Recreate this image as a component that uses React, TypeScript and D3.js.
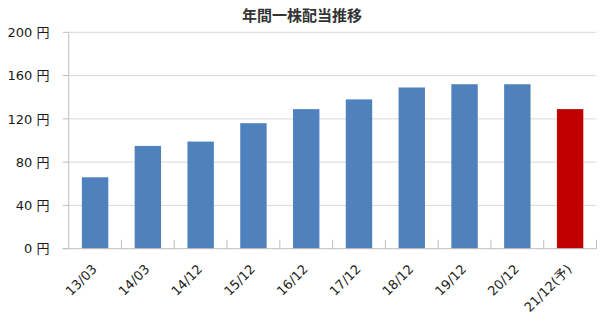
import React from "react";
import * as d3 from "d3";

const categories = ["13/03", "14/03", "14/12", "15/12", "16/12", "17/12", "18/12", "19/12", "20/12", "21/12(予)"];
const dividends = [66, 95, 99, 116, 129, 138, 149, 152, 152, 129];
const forecastFlags = [false, false, false, false, false, false, false, false, false, true];
const yTicks = [0, 40, 80, 120, 160, 200];
const title = "年間一株配当推移";

const W = 607;
const H = 321;
const left = 68.7;
const right = 596.5;
const top = 32.3;
const bottom = 248.7;
const FONT = "'DejaVu Sans', 'Noto Sans CJK JP', sans-serif";
const TITLE_FONT = "'Noto Sans CJK JP', sans-serif";

export default function App() {
  const x = d3.scaleBand<string>().domain(categories).range([left, right]).paddingInner(0.5).paddingOuter(0.25);
  const xb = d3.scaleBand<string>().domain(categories).range([left, right]);
  const y = d3.scaleLinear().domain([0, 200]).range([bottom, top]);
  const gridColor = "#d9d9d9";
  const axisColor = "#bfbfbf";

  return (
    <svg width={W} height={H} style={{ position: "absolute", left: 0, top: 0, background: "#fff" }}>
      <text x={302} y={21} textAnchor="middle" fontFamily={TITLE_FONT} fontSize={15} fontWeight="bold" fill="#333">
        {title}
      </text>
      {yTicks.map((t) => (
        <g key={t}>
          {t > 0 && <line x1={left} x2={right} y1={y(t)} y2={y(t)} stroke={gridColor} strokeWidth={1} />}
          <line x1={left - 6} x2={left} y1={y(t)} y2={y(t)} stroke={axisColor} strokeWidth={1} />
          <text x={49.5} y={y(t)} dy="0.36em" textAnchor="end" fontFamily={FONT} fontSize={13} fill="#1a1a1a">
            {`${t} 円`}
          </text>
        </g>
      ))}
      {categories.map((c, i) => (
        <rect
          key={c}
          x={x(c)}
          y={y(dividends[i])}
          width={x.bandwidth()}
          height={y(0) - y(dividends[i])}
          fill={forecastFlags[i] ? "#c00000" : "#4f81bd"}
        />
      ))}
      <line x1={left} x2={left} y1={top} y2={bottom} stroke={axisColor} strokeWidth={1} />
      <line x1={left - 6} x2={right} y1={bottom} y2={bottom} stroke={axisColor} strokeWidth={1} />
      {categories.map((c) => (
        <line
          key={"t" + c}
          x1={(xb(c) as number) + xb.bandwidth()}
          x2={(xb(c) as number) + xb.bandwidth()}
          y1={bottom - 9}
          y2={bottom}
          stroke={axisColor}
          strokeWidth={1}
        />
      ))}
      {categories.map((c) => {
        const cx = (x(c) as number) + x.bandwidth() / 2 + 2.5;
        return (
          <text
            key={"l" + c}
            transform={`translate(${cx},${270}) rotate(-45)`}
            textAnchor="end"
            fontFamily={FONT}
            fontSize={13}
            fill="#1a1a1a"
          >
            {c}
          </text>
        );
      })}
    </svg>
  );
}
